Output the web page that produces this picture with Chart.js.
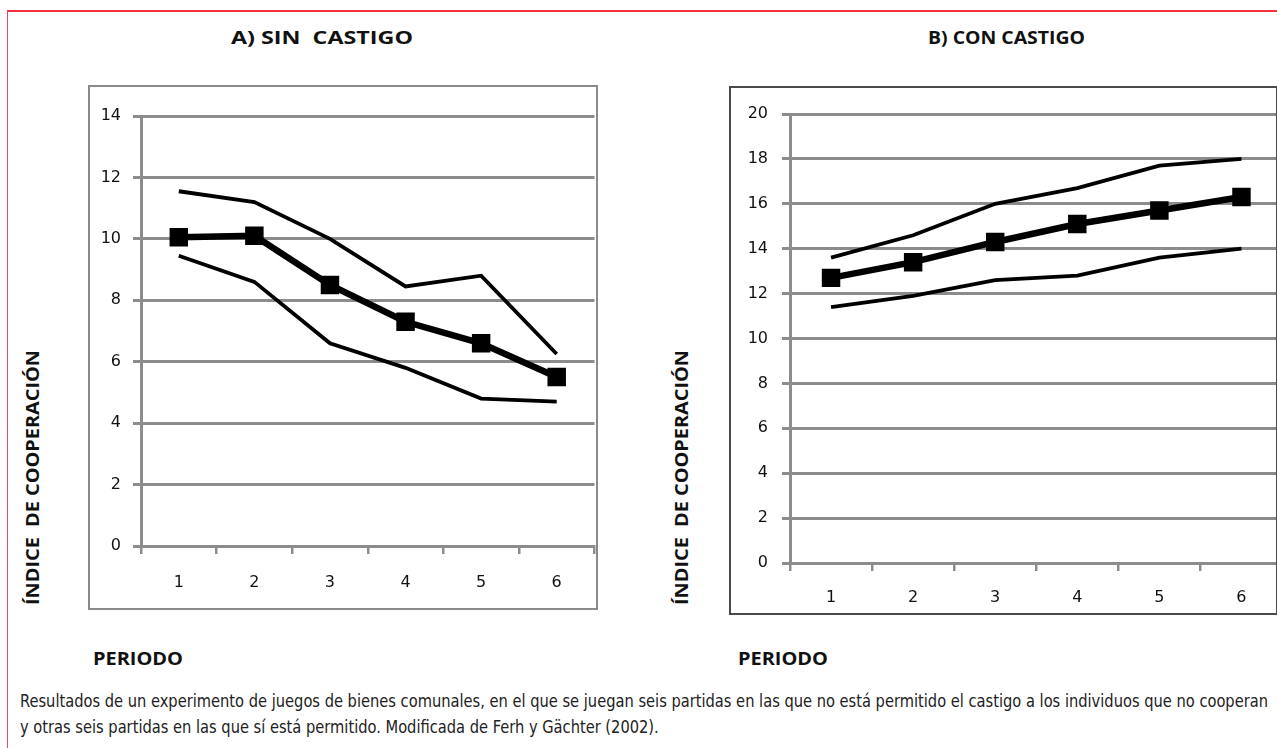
<!DOCTYPE html>
<html>
<head>
<meta charset="utf-8">
<script src="https://cdn.jsdelivr.net/npm/chart.js@4.4.1/dist/chart.umd.min.js"></script>
<style>
  body { margin: 0; width: 1277px; height: 748px; overflow: hidden; background: #fff; position: relative; }
  .frame { position: absolute; left: 7px; top: 10px; width: 1400px; height: 900px;
           border-left: 1px solid #ee4a57; border-top: 2px solid #f5303f; }
  .title, .xlabel { position: absolute; font-family: "Open Sans", sans-serif; font-weight: 700;
           font-size: 17px; color: #111; white-space: nowrap; transform-origin: left center; }
  .ylabel { position: absolute; font-family: "Open Sans", sans-serif; font-weight: 700;
           font-size: 17px; color: #111; white-space: nowrap; transform-origin: left top; }
  .box { position: absolute; z-index: 2; pointer-events: none; }
  .plot { position: absolute; z-index: 1; }
  .caption { position: absolute; left: 20px; font-family: "Liberation Sans Narrow", "DejaVu Sans Condensed", sans-serif;
           font-size: 17px; color: #222; white-space: nowrap; transform-origin: left center; }
</style>
</head>
<body>
<div class="frame"></div>

<div class="title" id="titleA" style="left:231px; top:26px;">A) SIN&nbsp; CASTIGO</div>
<div class="title" id="titleB" style="left:928px; top:26px;">B) CON CASTIGO</div>

<div class="ylabel" id="ylabA" style="left:21px; top:605px;">ÍNDICE&nbsp; DE COOPERACIÓN</div>
<div class="ylabel" id="ylabB" style="left:670px; top:605px;">ÍNDICE&nbsp; DE COOPERACIÓN</div>

<div class="xlabel" id="xlabA" style="left:93px; top:647px;">PERIODO</div>
<div class="xlabel" id="xlabB" style="left:738px; top:647px;">PERIODO</div>

<div class="box" style="left:88px; top:85px; width:506px; height:521px; border:2px solid #8a8a8a;"></div>
<div class="plot" style="left:88px; top:85px;"><canvas id="chartA" width="520" height="523"></canvas></div>

<div class="box" style="left:729px; top:86px; width:545px; height:525px; border:2px solid #4a4a4a;"></div>
<div class="plot" style="left:729px; top:86px;"><canvas id="chartB" width="567" height="527"></canvas></div>

<div class="caption" id="cap1" style="top:691px;">Resultados de un experimento de juegos de bienes comunales, en el que se juegan seis partidas en las que no está permitido el castigo a los individuos que no cooperan</div>
<div class="caption" id="cap2" style="top:717px;">y otras seis partidas en las que sí está permitido. Modificada de Ferh y Gächter (2002).</div>

<script>
const periods = ['1', '2', '3', '4', '5', '6'];

// A) sin castigo
const sinUpper = [11.55, 11.2, 10.0, 8.45, 8.8, 6.25];
const sinMean = [10.05, 10.1, 8.5, 7.3, 6.6, 5.5];
const sinLower = [9.45, 8.6, 6.6, 5.8, 4.8, 4.7];
const sinTicks = { min: 0, max: 14, step: 2 };

// B) con castigo
const conUpper = [13.6, 14.6, 16.0, 16.7, 17.7, 18.0];
const conMean = [12.7, 13.4, 14.3, 15.1, 15.7, 16.3];
const conLower = [11.4, 11.9, 12.6, 12.8, 13.6, 14.0];
const conTicks = { min: 0, max: 20, step: 2 };

const gridGray = '#8c8c8c';

function buildChart(canvasId, upper, mean, lower, ticks, geo) {
  const ctx = document.getElementById(canvasId);
  const thin = (data) => ({
    data: data,
    borderColor: '#000',
    borderWidth: 3.8,
    pointRadius: 0,
    fill: false,
    tension: 0,
  });
  return new Chart(ctx, {
    type: 'line',
    data: {
      labels: periods,
      datasets: [
        thin(upper),
        {
          data: mean,
          borderColor: '#000',
          borderWidth: 6.5,
          pointStyle: 'rect',
          pointRadius: 12,
          pointBorderWidth: 1.5,
          pointBackgroundColor: '#000',
          pointBorderColor: '#000',
          fill: false,
          tension: 0,
        },
        thin(lower),
      ],
    },
    options: {
      responsive: false,
      animation: false,
      layout: { padding: { top: geo.top, right: geo.right, left: 0, bottom: 0 } },
      plugins: { legend: { display: false }, tooltip: { enabled: false } },
      scales: {
        x: {
          offset: true,
          grid: { offset: true, drawOnChartArea: false, drawTicks: true, tickLength: 8, color: gridGray, lineWidth: 2.5 },
          border: { display: true, color: gridGray, width: 3 },
          ticks: { color: '#111', font: { family: 'DejaVu Sans', size: 16 }, padding: geo.xPad, maxRotation: 0 },
          afterFit: (scale) => { scale.height = geo.xHeight; },
        },
        y: {
          min: ticks.min,
          max: ticks.max,
          grid: { color: gridGray, lineWidth: 3, drawTicks: true, tickLength: 8 },
          border: { display: true, color: gridGray, width: 3 },
          ticks: { stepSize: ticks.step, color: '#111', font: { family: 'DejaVu Sans', size: 16 }, padding: geo.yPad },
          afterFit: (scale) => { scale.width = geo.yWidth; },
        },
      },
    },
  });
}

buildChart('chartA', sinUpper, sinMean, sinLower, sinTicks,
  { top: 31, right: 0, xHeight: 62, yWidth: 53, xPad: 19, yPad: 12 });
buildChart('chartB', conUpper, conMean, conLower, conTicks,
  { top: 28, right: 5, xHeight: 50, yWidth: 61, xPad: 17, yPad: 14 });

// squeeze texts to the widths they take in the original figure
function fitWidth(id, target, rotate) {
  const el = document.getElementById(id);
  const w = el.getBoundingClientRect().width;
  const s = target / w;
  el.style.transform = rotate ? 'rotate(-90deg) scaleX(' + s + ')' : 'scaleX(' + s + ')';
  return s;
}
const capScale = fitWidth('cap1', 1248);
document.getElementById('cap2').style.transform = 'scaleX(' + capScale + ')';
fitWidth('titleA', 182);
fitWidth('titleB', 157);
fitWidth('xlabA', 90);
fitWidth('xlabB', 90);
fitWidth('ylabA', 255, true);
fitWidth('ylabB', 255, true);
</script>
</body>
</html>
